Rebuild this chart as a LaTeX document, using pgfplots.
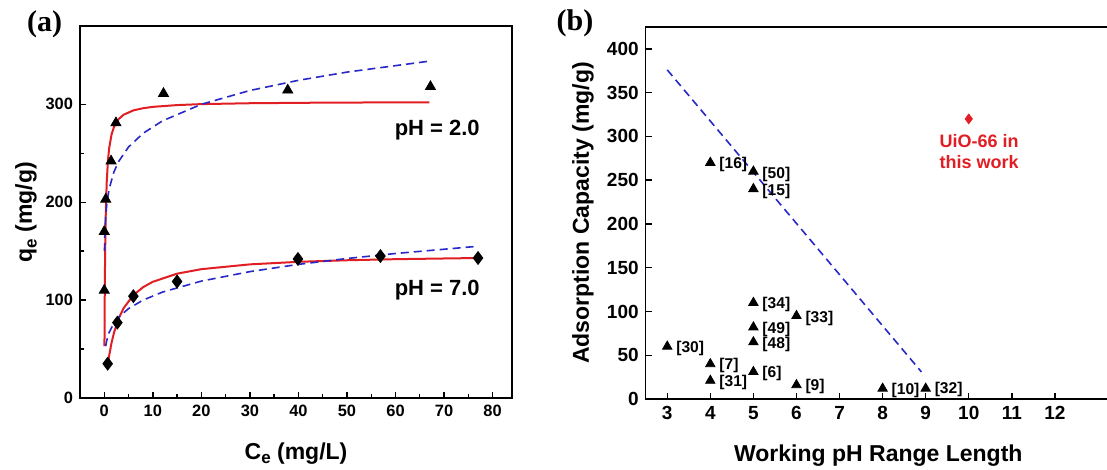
\documentclass[border=0pt]{standalone}
\usepackage{fontspec}
\setmainfont{Liberation Sans}
\newfontfamily\serifbf{Liberation Serif}
\usepackage{pgfplots}
\pgfplotsset{compat=1.18}
\definecolor{fitred}{RGB}{225,30,35}
\definecolor{fitblue}{RGB}{40,40,200}
\newcommand{\sube}{{\fontsize{8.5}{9}\selectfont\raisebox{-2.4pt}{e}}}

\begin{document}
\begin{tikzpicture}
\path[use as bounding box] (0,0) rectangle (553.5pt,235pt);
\pgfplotsset{
  panel/.style={
    scale only axis, anchor=south west,
    tick align=inside, xtick pos=bottom, ytick pos=left,
    axis line style={line width=0.7pt},
    every tick/.style={black,line width=0.7pt},
    major tick length=3pt, minor tick length=1.8pt,
    /pgf/number format/assume math mode=true,
    label style={font=\bfseries\fontsize{11.5}{13}\selectfont},
  }
}
% (a) isotherms
\begin{axis}[panel,
  at={(40pt,36pt)}, width=216pt, height=186pt,
  xmin=-5, xmax=84, ymin=0, ymax=380,
  xtick={0,10,...,80}, minor x tick num=1,
  ytick={0,100,200,300}, minor y tick num=1,
  tick label style={font=\bfseries\fontsize{8.2}{9}\selectfont},
  xlabel={C\sube{} (mg/L)},
  ylabel={q\sube{} (mg/g)},
  xlabel style={at={(axis description cs:0.5,-0.164)},anchor=base},
  ylabel style={at={(axis description cs:-0.125,0.5)},anchor=center},
]
\addplot[only marks,mark=triangle*,mark size=2.9pt,black] coordinates {
  (0,110) (0,170) (0.3,203) (1.4,242) (2.4,281) (12.2,311) (37.8,314.5) (67.2,318)};
\addplot[only marks,mark=diamond*,mark size=3.2pt,black] coordinates {
  (0.7,35) (2.7,77) (6.0,104) (15.0,119) (39.9,142) (56.9,145) (77,143)};
% Langmuir fits
\addplot[fitred,line width=1pt] coordinates {
  (0.04,53.0) (0.06,73.1) (0.1,105.0) (0.15,134.2) (0.2,155.9) (0.3,186.0)
  (0.5,220.0) (0.75,242.1) (1,254.9) (1.5,269.2) (2,276.9) (3,285.1)
  (4,289.4) (6,293.8) (8,296.0) (10,297.4) (15,299.2) (20,300.2)
  (30,301.1) (45,301.7) (67,302.1)};
\addplot[fitred,line width=1pt] coordinates {
  (0.7,33.1) (1,43.1) (1.5,56.4) (2,66.7) (3,81.6) (4,91.9) (6,105.1)
  (8,113.2) (10,118.7) (15,127.0) (20,131.6) (30,136.5) (40,139.1)
  (50,140.7) (60,141.8) (77,143.0)};
% Freundlich fits
\addplot[fitblue,line width=0.8pt,dash pattern=on 4pt off 2.5pt] coordinates {
  (0.045,150.3) (0.1,164.5) (0.2,178.0) (0.5,197.5) (1,213.6) (2,231.1)
  (3,241.9) (5,256.4) (8,270.4) (12,283.1) (20,300.0) (30,314.1)
  (40,324.5) (50,332.9) (67,344.1)};
\addplot[fitblue,line width=0.8pt,dash pattern=on 4pt off 2.5pt] coordinates {
  (0.3,53.0) (0.5,58.5) (1,66.9) (2,76.5) (3,82.7) (5,91.3) (8,100.0)
  (12,108.2) (20,119.4) (30,129.1) (40,136.5) (50,142.5) (60,147.6)
  (77,155.0)};
\node[font=\bfseries\fontsize{11}{13}\selectfont] at (axis cs:68.6,274) {pH = 2.0};
\node[font=\bfseries\fontsize{11}{13}\selectfont] at (axis cs:68.6,110.5) {pH = 7.0};
\end{axis}
% (b) capacity vs pH range
\begin{axis}[panel,
  at={(322.85pt,35.5pt)}, width=232.6pt, height=186pt,
  xmin=2.5, xmax=13.3, ymin=0, ymax=425,
  xtick={3,4,...,12}, ytick={0,50,...,400},
  tick label style={font=\bfseries\fontsize{9.5}{11}\selectfont},
  xlabel={Working pH Range Length},
  ylabel={Adsorption Capacity (mg/g)},
  xlabel style={at={(axis description cs:0.5,-0.167)},anchor=base},
  ylabel style={at={(axis description cs:-0.135,0.5)},anchor=center},
]
\addplot[fitblue,line width=0.8pt,dash pattern=on 4pt off 2.5pt] coordinates {
  (3,376) (8.9,31)};
\addplot[only marks,mark=triangle*,mark size=2.7pt,black] coordinates {
  (3,60) (4,270) (4,40) (4,21) (5,260) (5,240) (5,110) (5,82) (5,65) (5,31)
  (6,95) (6,16) (8,12) (9,12)};
\addplot[only marks,mark=diamond*,mark size=2.4pt,fitred] coordinates {(10,320)};
\begin{scope}[every node/.style={anchor=west,xshift=1pt,font=\bfseries\fontsize{7.8}{9}\selectfont}]
\node at (axis cs:3,58) {[30]};
\node at (axis cs:4,268) {[16]};
\node at (axis cs:4,38) {[7]};
\node at (axis cs:4,19) {[31]};
\node at (axis cs:5,256) {[50]};
\node at (axis cs:5,237) {[15]};
\node at (axis cs:5,108) {[34]};
\node at (axis cs:5,79) {[49]};
\node at (axis cs:5,62) {[48]};
\node at (axis cs:5,29) {[6]};
\node at (axis cs:6,92) {[33]};
\node at (axis cs:6,14) {[9]};
\node at (axis cs:8,10) {[10]};
\node at (axis cs:9,11) {[32]};
\end{scope}
\node[align=center,text=fitred,font=\bfseries\fontsize{9}{10.5}\selectfont]
  at (axis cs:10.24,283) {UiO-66 in\\this work};
\end{axis}
\node[font=\serifbf\bfseries\fontsize{15}{17}\selectfont] at (22.3pt,223pt) {(a)};
\node[font=\serifbf\bfseries\fontsize{15}{17}\selectfont] at (287.5pt,223.5pt) {(b)};
\end{tikzpicture}
\end{document}
